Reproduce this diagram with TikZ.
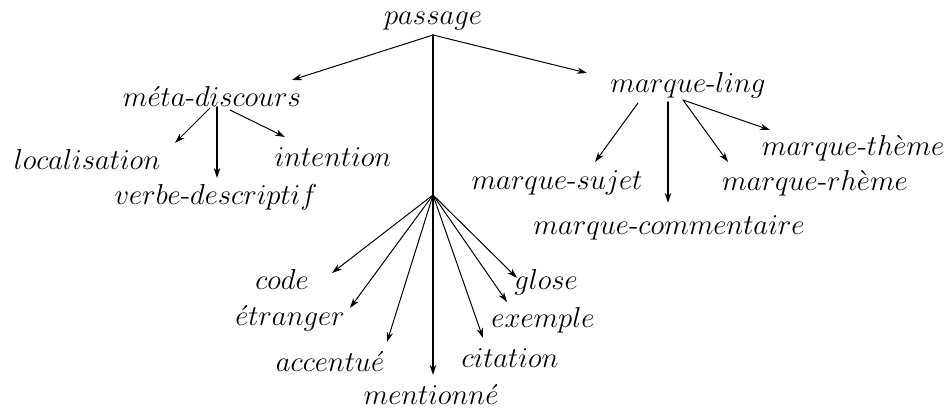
\documentclass[tikz,border=0pt]{standalone}
\usetikzlibrary{calc,arrows.meta}
\begin{document}
\begin{tikzpicture}[x=0.5pt,y=-0.5pt,line cap=round,>={Stealth[length=5pt,width=3.2pt]},
		lbl/.style={inner sep=0pt,font=\Large},
		arr/.style={->,line width=0.5pt},
		trunk/.style={->,line width=0.9pt}]
	\useasboundingbox (0,0) rectangle (949,411);
	% racine et trois branches
	\node[lbl] (passage) at (433,21) {$passage$};
	\coordinate (top) at (433,35);
	\coordinate (hub) at (433,195);
	\node[lbl] (meta) at (212,97) {$m\acute{e}ta\mbox{-}discours$};
	\node[lbl] (ling) at (688,85) {$marque\mbox{-}ling$};
	% sous meta-discours
	\node[lbl] (loc) at (87,160) {$localisation$};
	\node[lbl] (verbe) at (216,197) {$verbe\mbox{-}descriptif$};
	\node[lbl] (intention) at (333,157) {$intention$};
	% sous marque-ling
	\node[lbl] (sujet) at (557,183) {$marque\mbox{-}sujet$};
	\node[lbl] (comm) at (669,228) {$marque\mbox{-}commentaire$};
	\node[lbl] (rheme) at (815,183) {$marque\mbox{-}rh\grave{e}me$};
	\node[lbl] (theme) at (853,148) {$marque\mbox{-}th\grave{e}me$};
	% sous le noeud central
	\node[lbl] (code) at (282,280) {$code$};
	\node[lbl] (etr) at (290,318) {$\acute{e}tranger$};
	\node[lbl] (acc) at (330,362) {$accentu\acute{e}$};
	\node[lbl] (ment) at (431,395) {$mentionn\acute{e}$};
	\node[lbl] (cit) at (510,358) {$citation$};
	\node[lbl] (ex) at (543,320) {$exemple$};
	\node[lbl] (glose) at (546,282) {$glose$};

	\draw[arr] (top) -- ($(meta)+(80,-17)$);
	\draw[arr] (top) -- ($(ling)+(-101,-12)$);
	\draw[trunk] (top) -- ($(ment)+(2,-20)$);

	\draw[arr] ($(meta)+(-2,11)$) -- ($(loc)+(88,-17)$);
	\draw[trunk] ($(meta)+(5,10)$) -- ($(verbe)+(1,-19)$);
	\draw[arr] ($(meta)+(18,13)$) -- ($(intention)+(-48,-20)$);

	\draw[arr] ($(ling)+(-50,18)$) -- ($(sujet)+(38,-21)$);
	\draw[trunk] ($(ling)+(-20,17)$) -- ($(comm)+(-1,-25)$);
	\draw[arr] ($(ling)+(-5,15)$) -- ($(rheme)+(-87,-21)$);
	\draw[arr] ($(ling)+(-5,15)$) -- ($(theme)+(-83,-18)$);

	\foreach \n/\dx/\dy in {code/50/-7,etr/60/-10,acc/57/-20,cit/-27/-20,ex/-36/-18,glose/-29/-4}
		\draw[arr] (hub) -- ($(\n)+(\dx,\dy)$);
\end{tikzpicture}
\end{document}
